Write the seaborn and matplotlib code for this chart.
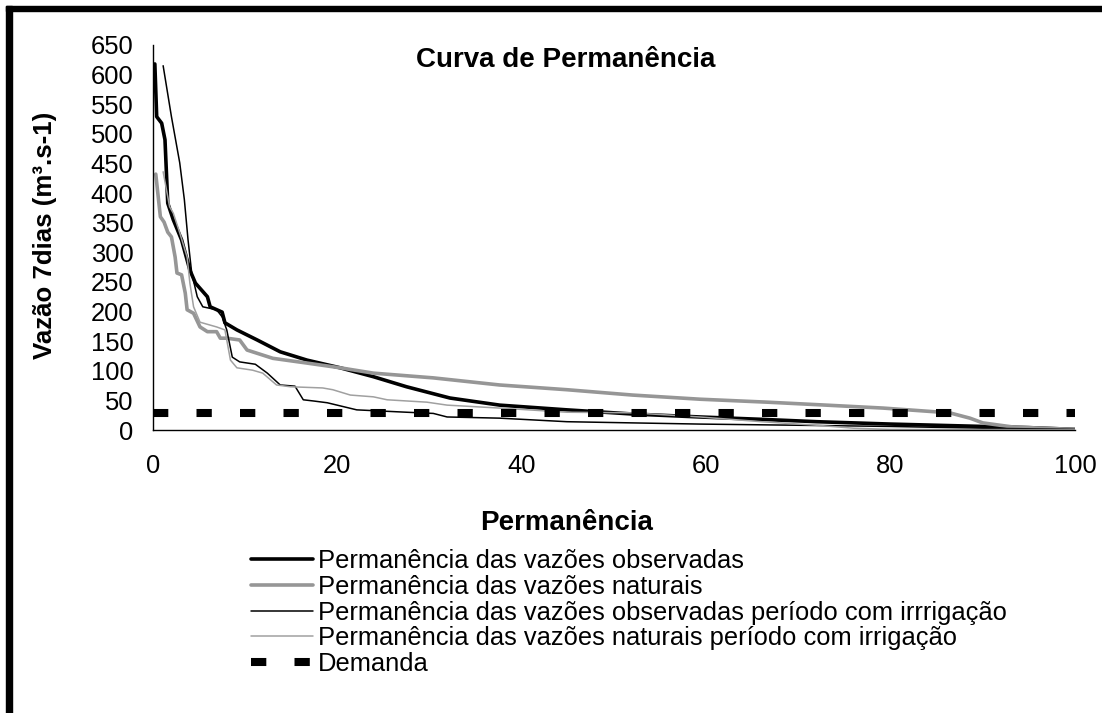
import matplotlib
matplotlib.use("Agg")
import matplotlib.pyplot as plt
from matplotlib.patches import Rectangle
import seaborn as sns

sns.set_theme(style="white")
plt.rcParams['font.family'] = ['Liberation Sans', 'DejaVu Sans']
plt.rcParams['text.color'] = 'black'
plt.rcParams['axes.labelcolor'] = 'black'

# curve data (permanence %, flow m3/s)
obs_x = [0.2, 0.4, 0.94, 1.3, 1.6, 2.2, 3.1, 4.0, 4.6, 5.9, 6.2, 7.5, 7.8, 9.1, 11.3, 13.8, 16.7,
         20.3, 23.9, 27.5, 32.2, 37.6, 44.9, 52, 59.3, 66, 72, 80, 90, 95, 100]
obs_y = [618, 529, 518, 490, 383, 355, 321, 270, 248, 225, 208, 199, 181, 169, 152, 132, 118,
         105, 90, 73, 54, 42, 34, 27, 22, 18, 14, 10, 6, 4, 1]

nat_x = [0.3, 0.8, 1.2, 1.6, 2.0, 2.4, 2.6, 3.1, 3.5, 3.7, 4.4, 5.1, 5.9, 6.9, 7.3, 8.0, 9.4, 10.2,
         13.0, 16.7, 20.3, 23.9, 30.4, 37.6, 44.9, 52, 59.3, 66.6, 73, 79.2, 86.4, 88.6, 90, 93.3, 100]
nat_y = [432, 360, 351, 334, 326, 292, 265, 262, 231, 203, 197, 174, 166, 166, 155, 155, 152, 135,
         121, 113, 105, 96, 88, 76, 68, 59, 52, 47, 42, 37, 29, 20, 12, 5, 1]

obs_irr_x = [1.1, 2.0, 2.9, 3.4, 3.8, 4.2, 4.8, 5.4, 6.9, 7.5, 8.0, 8.6, 9.4, 11.1, 12.4, 13.8, 15.4,
             16.3, 17.4, 18.9, 22.1, 27.5, 30.4, 31.9, 37.6, 44.9, 52, 59.3, 70, 80, 90, 100]
obs_irr_y = [615, 529, 451, 389, 321, 265, 225, 208, 203, 191, 169, 123, 115, 111, 96, 76, 74,
             51, 49, 46, 34, 30, 28, 22, 20, 14, 12, 10, 8, 6, 3, 1]

nat_irr_x = [1.1, 1.8, 2.2, 2.9, 3.7, 4.0, 4.4, 5.1, 6.9, 7.8, 8.4, 9.1, 10.8, 11.9, 13.4, 14.9, 18.4,
             19.5, 21.4, 23.9, 25.4, 29.7, 31.9, 37.6, 44.9, 52, 59.3, 66, 72, 76, 80, 100]
nat_irr_y = [436, 377, 366, 333, 292, 248, 208, 182, 174, 169, 118, 105, 101, 96, 76, 73, 71,
             68, 59, 56, 51, 47, 42, 37, 30, 29, 22, 14, 8, 3, 1, 0.5]

demand_x = [0, 100]
demand_y = [28, 28]

labels = ['Permanência das vazões observadas',
          'Permanência das vazões naturais',
          'Permanência das vazões observadas período com irrrigação',
          'Permanência das vazões naturais período com irrigação',
          'Demanda']

W, H = 1102, 713
fig = plt.figure(figsize=(W / 100, H / 100), dpi=100)
ax = fig.add_axes([153 / W, 1 - 430 / H, 922 / W, 385 / H])

sns.lineplot(x=obs_x, y=obs_y, ax=ax, color='black', linewidth=2.6, estimator=None, label=labels[0])
sns.lineplot(x=nat_x, y=nat_y, ax=ax, color='#969696', linewidth=2.6, estimator=None, label=labels[1])
sns.lineplot(x=obs_irr_x, y=obs_irr_y, ax=ax, color='black', linewidth=1.1, estimator=None, label=labels[2])
sns.lineplot(x=nat_irr_x, y=nat_irr_y, ax=ax, color='#a0a0a0', linewidth=1.1, estimator=None, label=labels[3])
sns.lineplot(x=demand_x, y=demand_y, ax=ax, color='black', linewidth=5.8, estimator=None,
             linestyle=(0, (1.9, 3.5)), label=labels[4])

ax.set_xlim(0, 100)
ax.set_ylim(0, 650)
ax.set_xticks(range(0, 101, 20))
ax.set_yticks(range(0, 651, 50))
for s in ['top', 'right']:
    ax.spines[s].set_visible(False)
for s in ['left', 'bottom']:
    ax.spines[s].set_color('black')
    ax.spines[s].set_linewidth(1.0)
ax.tick_params(axis='both', direction='out', length=5, width=1, color='black',
               labelsize=18.4, labelcolor='black')
ax.tick_params(axis='x', pad=12)
ax.tick_params(axis='y', pad=9)
ax.set_xlabel('')
ax.set_ylabel('')
ax.grid(False)

fig.text(566 / W, 1 - 60 / H, 'Curva de Permanência', ha='center', va='center',
         fontsize=20, fontweight='bold', color='black')
fig.text(567 / W, 1 - 523 / H, 'Permanência', ha='center', va='center',
         fontsize=20, fontweight='bold', color='black')
fig.text(45 / W, 1 - 235 / H, 'Vazão 7dias (m³.s-1)', ha='center', va='center',
         rotation=90, fontsize=18.6, fontweight='bold', color='black')

leg = ax.legend(loc='upper left', bbox_to_anchor=(251 / W, 1 - 549 / H),
                bbox_transform=fig.transFigure, frameon=False, fontsize=18.4,
                borderpad=0, borderaxespad=0, handlelength=2.42, handletextpad=0.2,
                labelspacing=0.07)
for t in leg.get_texts():
    t.set_color('black')

# frame edge of the original chart area (top and left only, the rest is cropped)
fig.patches.append(Rectangle((6 / W, 1 - 11 / H), 1 - 6 / W, 5 / H, transform=fig.transFigure,
                             color='black', zorder=10))
fig.patches.append(Rectangle((6 / W, 0), 6 / W, 1 - 6 / H, transform=fig.transFigure,
                             color='black', zorder=10))

plt.savefig('out.png', dpi=100)
plt.close()
